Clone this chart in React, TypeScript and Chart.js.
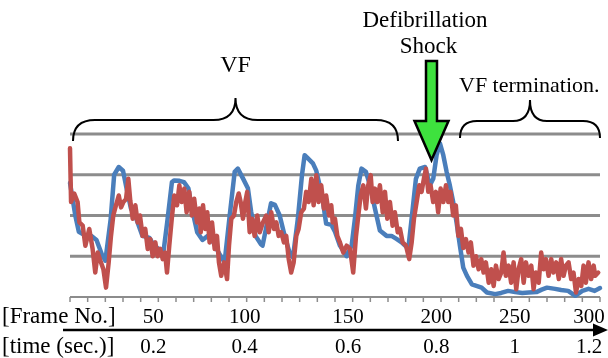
import React, { useEffect, useRef } from 'react';
import { Chart, registerables } from 'chart.js';

Chart.register(...registerables);

// ---- data ----
const blueFrames = [
  0, 3, 5, 9, 12, 15, 18, 20, 23, 25, 27.6, 30, 32, 34.5, 37.4, 41, 45, 47.5, 51.5, 53,
  55, 57.7, 59, 62, 64.5, 67, 69, 72, 75, 78, 81, 84, 86, 87.5, 90.4, 93.2, 95, 97.9, 100.7, 102.5,
  105, 108, 109, 113.8, 116, 118.7, 121.5, 124.3, 126.2, 129, 131.3, 132.8, 134.7, 137.5, 139.4, 141.3, 143.2, 145, 148, 150,
  152.8, 156.6, 159.4, 161.3, 163.2, 165, 167.5, 169.8, 172.6, 175.4, 179.2, 182, 185, 187.7, 191.5, 193.4, 195.8, 198, 201, 203.7,
  205.6, 207.5, 209.4, 211.3, 213.2, 215, 216.9, 218.8, 220.7, 222.6, 224.7, 227.5, 233, 236, 240.7, 244, 248, 252, 256, 259.6,
  264, 267, 270, 274.6, 278, 282, 286, 290, 293.5, 297, 300,
];
const blueValues = [
  2.8, 2.0, 1.6, 1.5, 1.5, 1.4, 1.05, 0.89, 1.9, 3.0, 3.19, 3.1, 2.67, 2.17, 1.93, 1.5, 1.45, 1.26, 1.14, 1.14,
  1.83, 2.82, 2.86, 2.85, 2.82, 2.67, 2.17, 1.59, 1.4, 1.5, 1.35, 1.1, 0.95, 0.85, 2.0, 3.07, 3.15, 2.91, 2.67, 2.1,
  1.5, 1.3, 1.26, 2.3, 2.26, 2.0, 1.5, 1.09, 0.97, 1.93, 2.99, 3.48, 3.4, 3.28, 3.1, 2.74, 2.33, 1.8, 1.77, 1.6,
  1.26, 1.0, 1.26, 1.93, 2.74, 3.15, 3.07, 2.74, 2.17, 1.63, 1.5, 1.5, 1.42, 1.34, 1.19, 1.93, 2.9, 3.15, 3.19, 2.74,
  2.9, 3.48, 3.77, 3.48, 3.07, 2.74, 2.33, 1.83, 1.26, 0.72, 0.52, 0.31, 0.23, 0.11, 0.07, 0.1, 0.15, 0.12, 0.1, 0.11,
  0.12, 0.18, 0.23, 0.2, 0.17, 0.15, 0.03, 0.15, 0.2, 0.15, 0.22,
];
const redFrames = [
  0, 0.6, 2.4, 4.3, 5.3, 7.2, 8.7, 10.9, 12.8, 14.3, 15.7, 17.5, 18.9, 20.4, 21.9, 23.2, 24.5, 26, 27.6, 28.9,
  30.2, 31.7, 33, 34.1, 35.5, 37, 38.3, 39.6, 41.1, 42.6, 44, 45.5, 46.8, 48.3, 49.6, 51.1, 52.5, 53.8, 54.9, 56.2,
  57.6, 59, 60.6, 61.9, 63.2, 64.7, 66, 67.5, 69, 70.3, 71.9, 73.2, 74, 75.3, 76.6, 77.7, 79, 80.4, 81.9, 83.2,
  84.3, 85.6, 87.2, 88.9, 90, 91.3, 92.8, 94.1, 95.5, 96.6, 97.9, 99.2, 100.3, 101.7, 103, 104.5, 106, 107.4, 109.2, 111.1,
  112.5, 113.9, 115.5, 116.8, 118.1, 119.6, 121.1, 122.4, 123.8, 125.2, 126.6, 128.1, 129.4, 130.9, 132.4, 133.7, 135.1, 136.6, 137.9, 139.4,
  140.7, 142.2, 143.7, 145, 146.6, 147.9, 148.7, 150, 151.3, 152.8, 154.7, 156.6, 158.5, 160.3, 161.9, 163.2, 164.5, 166, 167.5, 168.8,
  170.2, 171.3, 172.6, 173.9, 175.4, 177, 178.3, 179.6, 181.1, 182.6, 183.9, 185.5, 186.8, 188.3, 190.2, 192, 193.4, 194.7, 196.2, 197.7,
  199, 200.3, 201.5, 202.8, 204.1, 205.6, 207.1, 208.4, 209.8, 211.3, 212.8, 214.1, 215.4, 216.9, 218.4, 219.8, 221.3, 222.6, 224.1, 225.6,
  226.9, 228.4, 229.8, 231.3, 232.8, 234.1, 235.4, 237, 238.4, 239.8, 241.1, 242.6, 244.1, 245.4, 246.7, 248.3, 249.7, 251.1, 252.6, 253.9,
  255.4, 256.8, 258.1, 259.6, 261.1, 262.4, 263.7, 265.3, 266.7, 268.1, 269.4, 270.9, 272.4, 273.7, 275.2, 276.7, 278, 279.4, 280.7, 282.2,
  283.7, 285, 286.4, 287.9, 289.4, 290.7, 292, 293.5, 295, 296.4, 297.3, 299,
];
const redValues = [
  3.65, 2.33, 2.54, 2.33, 1.83, 1.75, 1.26, 1.67, 1.18, 0.6, 1.09, 0.85, 0.68, 0.23, 0.85, 1.5, 2.0, 2.25, 2.49, 2.2,
  2.33, 2.4, 2.9, 2.37, 1.92, 2.25, 1.83, 2.0, 1.5, 1.67, 1.18, 1.42, 1.0, 1.34, 1.0, 1.18, 0.93, 1.09, 0.6, 1.26,
  1.92, 2.49, 2.25, 2.74, 2.33, 2.66, 2.08, 2.58, 2.0, 2.41, 1.83, 2.17, 1.59, 2.25, 1.67, 2.08, 1.34, 1.83, 1.18, 1.5,
  0.85, 0.52, 0.85, 0.44, 1.26, 1.92, 2.0, 2.33, 2.54, 2.33, 1.92, 2.33, 2.58, 1.59, 1.92, 1.5, 2.0, 1.59, 1.83, 2.0,
  1.59, 2.08, 1.67, 1.83, 1.5, 1.59, 1.34, 1.5, 0.93, 0.6, 0.85, 1.5, 1.67, 2.08, 2.17, 2.58, 2.33, 2.9, 2.25, 2.99,
  2.33, 2.74, 2.17, 2.49, 2.0, 2.25, 1.83, 1.92, 1.5, 1.34, 1.09, 1.26, 1.18, 0.6, 1.5, 2.0, 2.49, 2.74, 2.17, 2.74,
  2.99, 2.33, 2.66, 2.33, 2.74, 2.08, 2.58, 1.92, 2.33, 1.75, 2.08, 1.59, 1.67, 1.34, 1.26, 0.93, 1.34, 1.92, 2.33, 2.74,
  2.58, 2.9, 3.15, 2.58, 2.74, 2.33, 2.58, 2.08, 2.66, 2.33, 2.74, 2.33, 2.58, 2.0, 2.25, 1.5, 1.67, 1.2, 1.42, 1.09,
  1.34, 0.77, 1.0, 0.68, 0.93, 0.6, 0.85, 0.35, 0.68, 0.27, 0.77, 0.44, 0.6, 1.09, 0.52, 0.77, 0.35, 0.85, 0.19, 0.68,
  0.93, 0.35, 0.85, 0.52, 0.77, 0.19, 0.6, 0.35, 1.09, 0.68, 0.93, 0.52, 0.93, 0.6, 0.85, 0.44, 0.93, 0.52, 0.77, 0.85,
  0.44, 0.6, 0.11, 0.44, 0.27, 0.77, 0.35, 0.85, 0.44, 0.77, 0.52, 0.6,
];
const gridLevels = [1, 2, 3, 4];
const frameTickValues = [50, 100, 150, 200, 250, 300];
const frameTickLabels = ['50', '100', '150', '200', '250', '300'];
const timeTickLabels = ['0.2', '0.4', '0.6', '0.8', '1', '1.2'];
const FRAME_MAX = 300;
const VALUE_MAX = 4;
const MINOR_STEP = 10;

const SERIF = '"Liberation Serif", "Times New Roman", serif';

function brace(ctx: CanvasRenderingContext2D, x1: number, x2: number, yEnd: number, yH: number, yCusp: number, r: number) {
  const cx = (x1 + x2) / 2;
  ctx.beginPath();
  ctx.moveTo(x1, yEnd);
  ctx.quadraticCurveTo(x1, yH, x1 + r, yH);
  ctx.lineTo(cx - r, yH);
  ctx.quadraticCurveTo(cx, yH, cx, yCusp);
  ctx.quadraticCurveTo(cx, yH, cx + r, yH);
  ctx.lineTo(x2 - r, yH);
  ctx.quadraticCurveTo(x2, yH, x2, yEnd);
  ctx.stroke();
}

const annotatePlugin = {
  id: 'annotate',
  beforeDatasetsDraw(chart: any) {
    const { ctx, chartArea: ca, scales } = chart;
    const x = scales.x;
    const y = scales.y;
    ctx.save();
    ctx.strokeStyle = '#8c8c8c';
    ctx.lineWidth = 3;
    for (const g of gridLevels) {
      const py = y.getPixelForValue(g);
      ctx.beginPath();
      ctx.moveTo(ca.left, py);
      ctx.lineTo(ca.right, py);
      ctx.stroke();
    }
    const ay = y.getPixelForValue(0);
    ctx.lineWidth = 2;
    ctx.beginPath();
    ctx.moveTo(ca.left, ay);
    ctx.lineTo(ca.right, ay);
    ctx.stroke();
    ctx.lineWidth = 1.5;
    for (let f = 0; f <= FRAME_MAX; f += MINOR_STEP) {
      const px = x.getPixelForValue(f);
      ctx.beginPath();
      ctx.moveTo(px, ay);
      ctx.lineTo(px, ay + 5);
      ctx.stroke();
    }
    ctx.restore();
  },
  afterDatasetsDraw(chart: any) {
    const { ctx, scales } = chart;
    const x = scales.x;
    ctx.save();
    // braces
    ctx.strokeStyle = '#000';
    ctx.lineWidth = 2;
    brace(ctx, 73, 398, 141, 120, 98, 22);
    brace(ctx, 460, 600, 138, 121, 100, 17);

    // shock arrow
    const ax = 431.5;
    ctx.beginPath();
    ctx.moveTo(ax - 5.5, 61);
    ctx.lineTo(ax + 5.5, 61);
    ctx.lineTo(ax + 5.5, 121);
    ctx.lineTo(ax + 17, 121);
    ctx.lineTo(ax, 160);
    ctx.lineTo(ax - 17, 121);
    ctx.lineTo(ax - 5.5, 121);
    ctx.closePath();
    ctx.fillStyle = '#3ee23e';
    ctx.fill();
    ctx.lineWidth = 2.5;
    ctx.lineJoin = 'miter';
    ctx.stroke();

    // texts
    ctx.fillStyle = '#000';
    ctx.textBaseline = 'alphabetic';
    ctx.textAlign = 'center';
    ctx.font = `24px ${SERIF}`;
    ctx.fillText('VF', 235.5, 72);
    ctx.font = `23px ${SERIF}`;
    ctx.fillText('Defibrillation', 425, 27);
    ctx.fillText('Shock', 428.5, 53);
    ctx.font = `22px ${SERIF}`;
    ctx.textAlign = 'left';
    ctx.fillText('VF termination.', 459, 92);

    // bottom axis labels
    ctx.font = `23px ${SERIF}`;
    ctx.fillText('[Frame No.]', 2, 323);
    ctx.fillText('[time (sec.)]', 2, 353);

    const nudges = [-5, -2, 13, 13, 3, -11];
    ctx.font = `21px ${SERIF}`;
    ctx.textAlign = 'center';
    frameTickValues.forEach((f, i) => {
      const px = x.getPixelForValue(f) + nudges[i];
      ctx.fillText(frameTickLabels[i], px, 323);
      ctx.fillText(timeTickLabels[i], px, 353);
    });

    // time arrow
    ctx.strokeStyle = '#000';
    ctx.lineWidth = 2.5;
    ctx.beginPath();
    ctx.moveTo(63, 330);
    ctx.lineTo(596, 330);
    ctx.stroke();
    ctx.beginPath();
    ctx.moveTo(593, 323.5);
    ctx.lineTo(608, 330);
    ctx.lineTo(593, 336.5);
    ctx.closePath();
    ctx.fillStyle = '#000';
    ctx.fill();
    ctx.restore();
  },
};

export default function App() {
  const canvasRef = useRef<HTMLCanvasElement | null>(null);

  useEffect(() => {
    document.body.style.margin = '0';
    const canvas = canvasRef.current;
    if (!canvas) return;
    const chart = new Chart(canvas, {
      type: 'line',
      data: {
        datasets: [
          {
            label: 'red',
            data: redFrames.map((f, i) => ({ x: f, y: redValues[i] })),
            borderColor: '#c0504d',
            borderWidth: 4.5,
            pointRadius: 0,
            tension: 0,
            clip: false as any,
          },
          {
            label: 'blue',
            data: blueFrames.map((f, i) => ({ x: f, y: blueValues[i] })),
            borderColor: '#4a7ebb',
            borderWidth: 4.5,
            pointRadius: 0,
            tension: 0,
            clip: false as any,
          },
        ],
      },
      options: {
        responsive: false,
        maintainAspectRatio: false,
        animation: false,
        devicePixelRatio: 1,
        layout: { padding: { left: 70, right: 8, top: 134, bottom: 61 } },
        plugins: { legend: { display: false }, tooltip: { enabled: false } },
        elements: { line: { borderJoinStyle: 'round', borderCapStyle: 'round' } },
        scales: {
          x: { type: 'linear', min: 0, max: FRAME_MAX, display: false },
          y: { type: 'linear', min: 0, max: VALUE_MAX, display: false },
        },
      },
      plugins: [annotatePlugin],
    });
    return () => chart.destroy();
  }, []);

  return (
    <div style={{ position: 'fixed', left: 0, top: 0, width: 608, height: 358, background: '#fff' }}>
      <canvas ref={canvasRef} width={608} height={358} style={{ display: 'block', width: 608, height: 358 }} />
    </div>
  );
}
